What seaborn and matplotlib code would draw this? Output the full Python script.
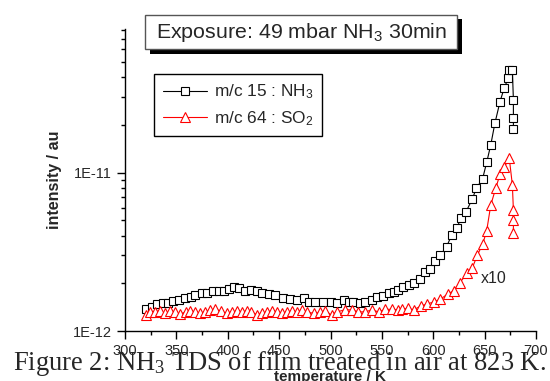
import numpy as np
import pandas as pd
import matplotlib
matplotlib.use('Agg')
import matplotlib.pyplot as plt
import seaborn as sns
from matplotlib.patches import Rectangle
from matplotlib.ticker import FixedLocator, FixedFormatter, LogLocator, NullFormatter, MultipleLocator

#Data (intensity in units of 1E-12)
temp_nh3 = [320, 326, 331, 337, 342, 347, 353, 358, 364, 368, 375, 380, 386, 391, 396, 401,
            406, 411, 417, 423, 428, 433, 440, 446, 454, 461, 467, 474, 479, 485, 493, 500,
            506, 513, 518, 522, 529, 534, 540, 545, 551, 557, 562, 566, 571, 576, 581, 587,
            592, 597, 602, 607, 613, 618, 623, 627, 632, 638, 642, 648, 652, 656, 660, 665,
            669, 673, 674, 677, 678, 678, 678]
int_nh3 = [1.37, 1.41, 1.47, 1.50, 1.51, 1.55, 1.57, 1.61, 1.65, 1.69, 1.75, 1.75, 1.79, 1.79, 1.80, 1.83,
           1.89, 1.86, 1.80, 1.82, 1.80, 1.73, 1.71, 1.69, 1.61, 1.59, 1.57, 1.61, 1.53, 1.53, 1.52, 1.52,
           1.50, 1.57, 1.52, 1.53, 1.51, 1.53, 1.58, 1.65, 1.67, 1.73, 1.77, 1.82, 1.89, 1.95, 2.02, 2.12,
           2.37, 2.45, 2.78, 3.02, 3.41, 4.04, 4.49, 5.15, 5.67, 6.82, 7.97, 9.13, 11.6, 15.0, 20.5, 28.1,
           34.1, 39.5, 44.5, 44.5, 28.8, 22.1, 18.9]

temp_so2 = [320, 324, 329, 334, 339, 344, 349, 354, 359, 363, 368, 373, 378, 383, 388, 393,
            399, 404, 409, 414, 419, 423, 428, 433, 438, 443, 448, 453, 458, 463, 467, 472,
            477, 484, 490, 495, 501, 506, 514, 521, 527, 534, 540, 547, 553, 560, 566, 570,
            575, 581, 588, 594, 601, 607, 614, 620, 626, 633, 638, 643, 648, 652, 656, 661,
            665, 669, 674, 677, 678, 678, 678]
int_so2 = [1.27, 1.31, 1.32, 1.34, 1.29, 1.34, 1.31, 1.28, 1.32, 1.34, 1.31, 1.29, 1.32, 1.36, 1.37, 1.34,
           1.29, 1.31, 1.34, 1.32, 1.34, 1.32, 1.27, 1.29, 1.32, 1.34, 1.32, 1.29, 1.32, 1.34, 1.31, 1.36,
           1.32, 1.29, 1.31, 1.34, 1.26, 1.32, 1.36, 1.36, 1.32, 1.32, 1.36, 1.32, 1.37, 1.37, 1.36, 1.37,
           1.39, 1.36, 1.44, 1.48, 1.53, 1.59, 1.71, 1.80, 2.02, 2.32, 2.50, 3.02, 3.52, 4.29, 6.25, 8.04,
           9.77, 10.8, 12.3, 8.36, 5.81, 5.03, 4.14]

labels = ['m/c 15 : NH$\\mathregular{_3}$', 'm/c 64 : SO$\\mathregular{_2}$']
xticks = [300, 350, 400, 450, 500, 550, 600, 650, 700]
yticks = [1e-12, 1e-11]
ytick_labels = ['1E-12', '1E-11']

nh3 = pd.DataFrame({'T': temp_nh3, 'I': np.array(int_nh3) * 1e-12})
so2 = pd.DataFrame({'T': temp_so2, 'I': np.array(int_so2) * 1e-12})

sns.set_style('ticks')
plt.rcParams['font.family'] = ['Liberation Sans', 'DejaVu Sans']
plt.rcParams['mathtext.fontset'] = 'custom'
plt.rcParams['mathtext.rm'] = 'Liberation Sans'

fig = plt.figure(figsize=(5.5, 3.81), dpi=100)
ax = fig.add_axes([125/550, 50/381, 411/550, 302.3/381])

sns.lineplot(data=nh3, x='T', y='I', sort=False, estimator=None, ax=ax, color='black',
             marker='s', markersize=6, markerfacecolor='white', markeredgecolor='black',
             markeredgewidth=0.8, linewidth=0.8, label=labels[0])
sns.lineplot(data=so2, x='T', y='I', sort=False, estimator=None, ax=ax, color='red',
             marker='^', markersize=7.5, markerfacecolor='white', markeredgecolor='red',
             markeredgewidth=0.8, linewidth=0.8, label=labels[1])

ax.set_yscale('log')
ax.set_xlim(300, 700)
ax.set_ylim(1e-12, 8.1e-11)
sns.despine(ax=ax)
ax.xaxis.set_major_locator(FixedLocator(xticks))
ax.xaxis.set_minor_locator(MultipleLocator(25))
ax.yaxis.set_major_locator(FixedLocator(yticks))
ax.yaxis.set_major_formatter(FixedFormatter(ytick_labels))
ax.yaxis.set_minor_locator(LogLocator(base=10, subs=np.arange(2, 10)))
ax.yaxis.set_minor_formatter(NullFormatter())
ax.tick_params(which='major', direction='out', length=6, width=1, labelsize=10.5, color='black')
ax.tick_params(which='minor', direction='out', length=3, width=1, color='black')
for s in ['left', 'bottom']:
    ax.spines[s].set_color('black')
    ax.spines[s].set_linewidth(1)

ax.set_xlabel('temperature / K', fontsize=11, fontweight='bold')
ax.set_ylabel('intensity / au', fontsize=11.5, fontweight='bold')
ax.xaxis.set_label_coords(0.5, -0.129)
ax.yaxis.set_label_coords(-0.153, 0.5)

ax.text(659, 2.13e-12, 'x10', fontsize=11.5, ha='center', va='center')

leg = ax.legend(loc='upper left', bbox_to_anchor=(154/550, 1-74/381), bbox_transform=fig.transFigure,
                borderaxespad=0, fancybox=False, framealpha=1, edgecolor='black', fontsize=12.4,
                handlelength=2.6, handletextpad=0.4, borderpad=0.5, labelspacing=0.45)
leg.get_frame().set_linewidth(1)

#Exposure box with shadow
fig.add_artist(Rectangle((150/550, 1-53.5/381), 312/550, 34/381, transform=fig.transFigure,
                         facecolor='black', edgecolor='none'))
fig.add_artist(Rectangle((145/550, 1-49/381), 312/550, 34/381, transform=fig.transFigure,
                         facecolor='white', edgecolor='#555555', linewidth=1))
fig.text(301.5/550, 1-32/381, 'Exposure: 49 mbar NH$\\mathregular{_3}$ 30min', fontsize=15.4,
         ha='center', va='center')

#Caption overlapping the axis
fig.text(279.5/550, 1-370/381, 'Figure 2: NH$\\mathregular{_3}$ TDS of film treated in air at 823 K.',
         fontsize=19.1, family=['Liberation Serif', 'DejaVu Serif'], ha='center', va='baseline')

plt.savefig('out.png', dpi=100)
